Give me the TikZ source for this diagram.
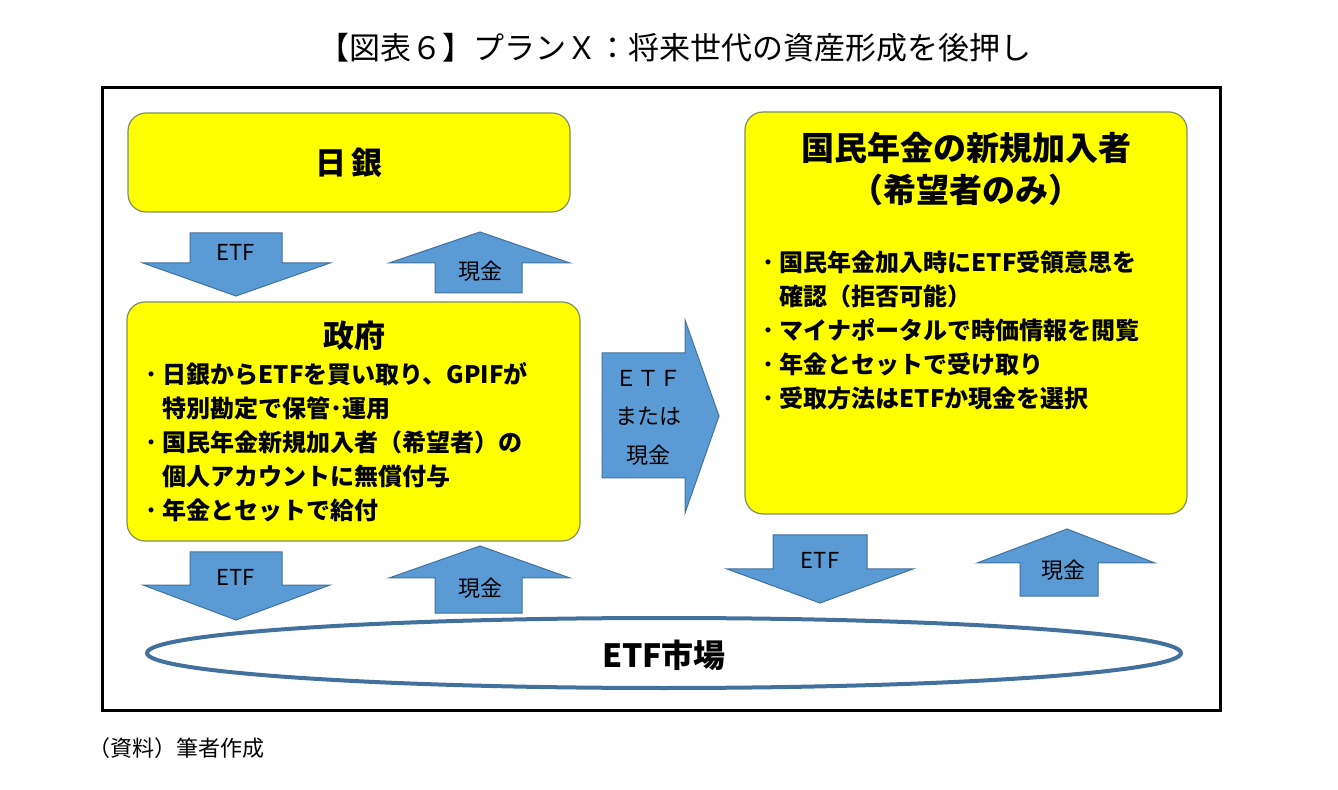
\documentclass[tikz,border=0pt]{standalone}
\usepackage{fontspec}
\setmainfont{Noto Sans CJK JP}
\newfontfamily\jp{Noto Sans CJK JP}
\usetikzlibrary{shapes.geometric}
\definecolor{boxyellow}{HTML}{FFFF00}
\definecolor{boxedge}{HTML}{7F8F5F}
\definecolor{arrowfill}{HTML}{5B9BD5}
\definecolor{arrowedge}{HTML}{41719C}
\definecolor{ellipseedge}{HTML}{41719C}
\tikzset{
  ybox/.style={draw=boxedge, fill=boxyellow, line width=0.6pt, rounded corners=9pt},
  barrow/.style={draw=arrowedge, fill=arrowfill, line width=0.5pt},
  alabel/.style={font=\jp\fontsize{11}{13}\selectfont, inner sep=0pt},
  head/.style={font=\jp\bfseries\fontsize{15.5}{19}\selectfont, inner sep=0pt},
  bodytxt/.style={font=\jp\bfseries\fontsize{12}{17}\selectfont, align=left, inner sep=0pt, anchor=north west},
}
\newcommand{\bul}{\makebox[0.72em][l]{･}}
\newcommand{\ind}{\hspace*{0.72em}}
\begin{document}
\begin{tikzpicture}[x=0.5pt,y=-0.5pt]
\useasboundingbox (0,0) rectangle (1338,790);
% title
\node[font=\jp\fontsize{15.5}{18}\selectfont, inner sep=0pt] (title) at (675,48) {【図表６】プランＸ：将来世代の資産形成を後押し};
% frame
\draw[line width=1.5pt] (102,88) rectangle (1220,710);
% boxes
\draw[ybox] (128,113) rectangle (570,212);
\node[head] (boj) at (349,163) {日\,銀};
\draw[ybox] (127,302) rectangle (580,541);
\node[head] (gov) at (354,336) {政府};
\node[bodytxt] (govtxt) at (145,362) {\bul 日銀からETFを買い取り、GPIFが\\ \ind 特別勘定で保管･運用\\ \bul 国民年金新規加入者（希望者）の\\ \ind 個人アカウントに無償付与\\ \bul 年金とセットで給付};
\draw[ybox] (745,112) rectangle (1187,514);
\node[font=\jp\bfseries\fontsize{16.5}{20}\selectfont, inner sep=0pt] (new1) at (966,148) {国民年金の新規加入者};
\node[font=\jp\bfseries\fontsize{16.5}{20}\selectfont, inner sep=0pt] (new2) at (966,190) {（希望者のみ）};
\node[bodytxt] (newtxt) at (762,250) {\bul 国民年金加入時にETF受領意思を\\ \ind 確認（拒否可能）\\ \bul マイナポータルで時価情報を閲覧\\ \bul 年金とセットで受け取り\\ \bul 受取方法はETFか現金を選択};
% arrows
\draw[barrow] (190,233)--(282,233)--(282,263)--(330,263)--(236,296)--(143,263)--(190,263)--cycle;
\node[alabel] (a1) at (236,252) {ETF};
\draw[barrow] (480,232)--(570,263)--(522,263)--(522,293)--(435,293)--(435,263)--(389,263)--cycle;
\node[alabel] (a2) at (480,271) {現金};
\draw[barrow] (190,552)--(282,552)--(282,585)--(330,585)--(236,620)--(143,585)--(190,585)--cycle;
\node[alabel] (a3) at (236,577) {ETF};
\draw[barrow] (480,546)--(570,578)--(522,578)--(522,613)--(435,613)--(435,578)--(389,578)--cycle;
\node[alabel] (a4) at (480,588) {現金};
\draw[barrow] (602,353)--(685,353)--(685,320)--(719,416)--(685,513)--(685,478)--(602,478)--cycle;
\node[alabel] (a5a) at (648,378) {ＥＴＦ};
\node[alabel] (a5b) at (648,416) {または};
\node[alabel] (a5c) at (648,455) {現金};
\draw[barrow] (773,535)--(867,535)--(867,569)--(913,569)--(820,603)--(727,569)--(773,569)--cycle;
\node[alabel] (a6) at (820,560) {ETF};
\draw[barrow] (1067,529)--(1155,563)--(1098,563)--(1098,596)--(1020,596)--(1020,563)--(977,563)--cycle;
\node[alabel] (a7) at (1063,570) {現金};
% ellipse
\draw[draw=ellipseedge, fill=white, line width=2pt] (664,653) ellipse [x radius=517, y radius=35];
\node[head, font=\jp\bfseries\fontsize{16}{19}\selectfont] (mkt) at (664,655) {ETF市場};
% caption
\node[font=\jp\fontsize{11}{13}\selectfont, inner sep=0pt, anchor=west] (src) at (88,748) {（資料）筆者作成};
\end{tikzpicture}
\end{document}
